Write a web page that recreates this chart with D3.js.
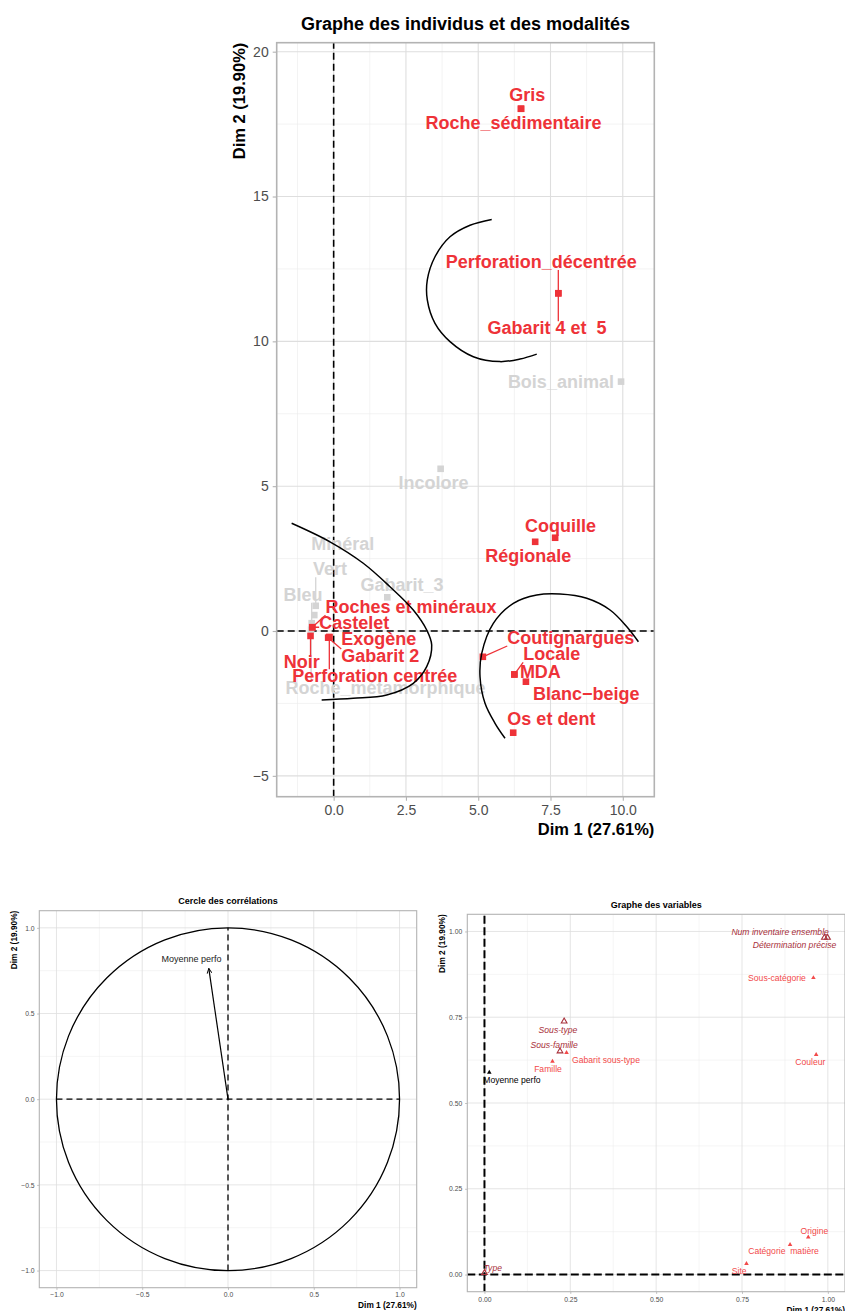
<!DOCTYPE html>
<html><head><meta charset="utf-8">
<script src="https://cdn.jsdelivr.net/npm/d3@7"></script>
<style>
body{margin:0;background:#fff}
svg{display:block;font-family:"Liberation Sans",Arial,sans-serif}
text{white-space:pre}
</style>
</head><body>
<svg id="c" width="845" height="1311"></svg>
<script>
// ================= DATA =================
// Main plot: modalities (coordinates on Dim 1 / Dim 2)
const modNames = ["Gris","Roche_sédimentaire","Perforation_décentrée","Gabarit 4 et  5","Bois_animal","Incolore",
  "Coquille","Régionale","Minéral","Vert","Gabarit_3","Bleu","Roches et minéraux","Castelet","Exogène",
  "Gabarit 2","Noir","Perforation centrée","Roche_métamorphique","Coutignargues","Locale","MDA","Blanc−beige","Os et dent"];
const modDim1 = [6.48,6.48,7.77,7.77,9.94,3.70, 7.66,6.97,-0.67,-0.62,1.855,-0.76,-0.74,-0.74,-0.15,
  -0.19,-0.80,-0.15,-0.78,5.16,6.25,6.25,6.65,6.21];
const modDim2 = [18.03,18.03,11.66,11.66,8.61,5.60, 3.22,3.08,0.55,0.87,1.163,0.27,0.13,0.13,-0.21,
  -0.23,-0.17,-0.21,0.05,-0.89,-1.50,-1.50,-1.75,-3.51];
const modHighlighted = [true,true,true,true,false,false, true,true,false,false,false,false,true,true,true,
  true,true,true,false,true,true,true,true,true];
// repelled label positions (data units)
const modLabelDim1 = [6.70,6.22,7.18,7.38,7.86,3.45, 7.85,6.73,0.315,-0.128,2.363,-1.062,2.675,0.709,1.56,
  1.613,-1.107,1.419,1.792,8.20,7.54,7.15,8.74,7.53];
const modLabelDim2 = [18.53,17.55,12.76,10.47,8.61,5.12, 3.65,2.60,3.02,2.15,1.605,1.27,0.839,0.276,-0.259,
  -0.846,-1.053,-1.547,-1.961,-0.224,-0.788,-1.404,-2.168,-3.03];
const modSegment = [false,false,true,true,false,false, false,false,false,true,false,true,true,true,false,
  true,true,true,true,true,true,false,false,false];

// annotation arcs (traced, data units)
const arcTopDim1 = [5.467,4.716,4.024,3.505,3.239,3.239,3.505,4.024,4.83,5.754,6.446,7.024];
const arcTopDim2 = [14.21,14.01,13.61,12.92,12.12,11.43,10.62,9.99,9.47,9.30,9.39,9.56];
const arcLeftDim1 = [-1.453,-0.128,1.024,1.948,2.754,3.218,3.391,3.218,2.754,1.834,0.678,-0.415];
const arcLeftDim2 = [3.72,3.08,2.34,1.53,0.725,0.035,-0.483,-1.232,-1.805,-2.209,-2.323,-2.382];
const arcRightDim1 = [10.54,10.14,9.56,8.754,7.83,7.024,6.215,5.522,5.121,5.062,5.235,5.581,5.927];
const arcRightDim2 = [-0.369,0.148,0.725,1.129,1.277,1.243,0.956,0.266,-0.770,-1.577,-2.496,-3.186,-3.704];

const mainXTicks = [0,2.5,5,7.5,10];
const mainXTickLabels = ["0.0","2.5","5.0","7.5","10.0"];
const mainXMinor = [-1.25,1.25,3.75,6.25,8.75];
const mainYTicks = [-5,0,5,10,15,20];
const mainYTickLabels = ["−5","0","5","10","15","20"];
const mainYMinor = [-2.5,2.5,7.5,12.5,17.5];

// Correlation circle
const corNames = ["Moyenne perfo"];
const corDim1 = [-0.112];
const corDim2 = [0.763];
const corLabelDim1 = [-0.213];
const corLabelDim2 = [0.817];
const corTicks = [-1,-0.5,0,0.5,1];
const corTickLabels = ["−1.0","−0.5","0.0","0.5","1.0"];
const corMinor = [-0.75,-0.25,0.25,0.75];

// Graph of variables
const varNames = ["Num inventaire ensemble","Détermination précise","Sous-catégorie","Couleur","Sous-type",
  "Sous-famille","Gabarit sous-type","Famille","Moyenne perfo","Type","Site","Catégorie  matière","Origine"];
const varDim1 = [0.990,0.999,0.958,0.966,0.232,0.220,0.239,0.198,0.014,0.000,0.763,0.890,0.943];
const varDim2 = [0.982,0.982,0.865,0.641,0.738,0.651,0.647,0.621,0.589,0.005,0.032,0.087,0.109];
const varRole = ["sup","sup","act","act","sup","sup","act","act","quanti","sup","act","act","act"];
const varLabelDim1 = [0.861,0.903,0.852,0.949,0.214,0.203,0.354,0.185,0.080,0.024,0.742,0.871,0.961];
const varLabelDim2 = [0.998,0.960,0.865,0.619,0.714,0.669,0.627,0.598,0.566,0.020,0.010,0.068,0.126];
const varTicks = [0,0.25,0.5,0.75,1];
const varTickLabels = ["0.00","0.25","0.50","0.75","1.00"];
const varMinor = [0.125,0.375,0.625,0.875];

// ================= STYLE =================
const RED = "#EE3238", GREY = "#D4D4D4";
const DARKRED = "#A8303A", LIGHTRED = "#F24A4A";
const FONT = "'Liberation Sans', Arial, sans-serif";
const svg = d3.select("#c");

function drawPanel(o){
  const g = svg.append("g");
  const x = d3.scaleLinear().domain(o.xDomain).range([o.left,o.right]);
  const y = d3.scaleLinear().domain(o.yDomain).range([o.bottom,o.top]);
  g.append("rect").attr("x",o.left).attr("y",o.top).attr("width",o.right-o.left).attr("height",o.bottom-o.top).attr("fill","#fff");
  const grid = g.append("g");
  grid.selectAll(".mx").data(o.xMinor).join("line").attr("x1",d=>x(d)).attr("x2",d=>x(d)).attr("y1",o.top).attr("y2",o.bottom)
    .attr("stroke","#EBEBEB").attr("stroke-width",o.minorW);
  grid.selectAll(".my").data(o.yMinor).join("line").attr("y1",d=>y(d)).attr("y2",d=>y(d)).attr("x1",o.left).attr("x2",o.right)
    .attr("stroke","#EBEBEB").attr("stroke-width",o.minorW);
  grid.selectAll(".Mx").data(o.xTicks).join("line").attr("x1",d=>x(d)).attr("x2",d=>x(d)).attr("y1",o.top).attr("y2",o.bottom)
    .attr("stroke","#DEDEDE").attr("stroke-width",o.majorW);
  grid.selectAll(".My").data(o.yTicks).join("line").attr("y1",d=>y(d)).attr("y2",d=>y(d)).attr("x1",o.left).attr("x2",o.right)
    .attr("stroke","#DEDEDE").attr("stroke-width",o.majorW);
  const xa = g.append("g").attr("transform",`translate(0,${o.bottom})`)
    .call(d3.axisBottom(x).tickValues(o.xTicks).tickFormat((d,i)=>o.xLabels[i]).tickSize(o.tick).tickPadding(o.pad));
  const ya = g.append("g").attr("transform",`translate(${o.left},0)`)
    .call(d3.axisLeft(y).tickValues(o.yTicks).tickFormat((d,i)=>o.yLabels[i]).tickSize(o.tick).tickPadding(o.pad));
  [xa,ya].forEach(a=>{
    a.select(".domain").remove();
    a.attr("font-family",FONT).attr("font-size",o.tickFs);
    a.selectAll("line").attr("stroke","#B3B3B3").attr("stroke-width",o.majorW);
    a.selectAll("text").attr("fill","#4D4D4D");
  });
  // titles
  svg.append("text").attr("x",(o.left+o.right)/2).attr("y",o.titleY).attr("text-anchor","middle")
    .attr("font-weight","bold").attr("font-size",o.titleFs).attr("fill","#000").text(o.title);
  svg.append("text").attr("x",o.right).attr("y",o.xTitleY).attr("text-anchor","end")
    .attr("font-weight","bold").attr("font-size",o.axisFs).attr("fill","#000").text("Dim 1 (27.61%)");
  svg.append("text").attr("transform",`translate(${o.yTitleX},${o.top}) rotate(-90)`).attr("text-anchor","end")
    .attr("font-weight","bold").attr("font-size",o.axisFs).attr("fill","#000").text("Dim 2 (19.90%)");
  const clipId = "clip"+Math.round(o.left)+"_"+Math.round(o.top);
  svg.append("clipPath").attr("id",clipId).append("rect").attr("x",o.left).attr("y",o.top).attr("width",o.right-o.left).attr("height",o.bottom-o.top);
  const plot = g.append("g").attr("clip-path",`url(#${clipId})`);
  const border = ()=> g.append("rect").attr("x",o.left).attr("y",o.top).attr("width",o.right-o.left).attr("height",o.bottom-o.top)
    .attr("fill","none").attr("stroke","#B3B3B3").attr("stroke-width",o.borderW);
  return {g,plot,x,y,border};
}

// ================= MAIN PANEL =================
const M = drawPanel({left:276.7,right:654.3,top:42.7,bottom:796.7,xDomain:[-1.97,11.09],yDomain:[-5.72,20.31],
  xTicks:mainXTicks,xLabels:mainXTickLabels,xMinor:mainXMinor,yTicks:mainYTicks,yLabels:mainYTickLabels,yMinor:mainYMinor,
  tick:4,pad:4,tickFs:14,minorW:0.6,majorW:1.1,borderW:1.6,title:"Graphe des individus et des modalités",titleFs:18,titleY:30,
  axisFs:16.5,xTitleY:835,yTitleX:245});
{
  const {plot,x,y} = M;
  plot.append("line").attr("x1",x(0)).attr("x2",x(0)).attr("y1",y.range()[0]).attr("y2",y.range()[1])
    .attr("stroke","#000").attr("stroke-width",1.6).attr("stroke-dasharray","7,4");
  plot.append("line").attr("y1",y(0)).attr("y2",y(0)).attr("x1",x.range()[0]).attr("x2",x.range()[1])
    .attr("stroke","#000").attr("stroke-width",1.6).attr("stroke-dasharray","7,4");
  const mods = modNames.map((n,i)=>({n,x:modDim1[i],y:modDim2[i],hi:modHighlighted[i],lx:modLabelDim1[i],ly:modLabelDim2[i],seg:modSegment[i]}));
  const order = mods.filter(d=>!d.hi).concat(mods.filter(d=>d.hi));
  const segG = plot.append("g");
  const ptG = plot.append("g");
  const lbG = plot.append("g");
  ptG.selectAll("rect").data(order).join("rect")
    .attr("x",d=>x(d.x)-3.3).attr("y",d=>y(d.y)-3.3).attr("width",6.6).attr("height",6.6)
    .attr("fill",d=>d.hi?RED:GREY);
  const lbs = lbG.selectAll("text").data(order).join("text")
    .attr("x",d=>x(d.lx)).attr("y",d=>y(d.ly)).attr("dy","0.36em").attr("text-anchor","middle")
    .attr("font-weight","bold").attr("font-size",18).attr("fill",d=>d.hi?RED:GREY).text(d=>d.n);
  lbs.each(function(d){
    if(!d.seg) return;
    const b = this.getBBox();
    const top = b.y+3, bot = b.y+b.height-2;
    const px = x(d.x), py = y(d.y);
    const cx = Math.max(b.x, Math.min(b.x+b.width, px));
    const cy = Math.max(top, Math.min(bot, py));
    segG.append("line").attr("x1",px).attr("y1",py).attr("x2",cx).attr("y2",cy)
      .attr("stroke",d.hi?RED:GREY).attr("stroke-width",1.3);
  });
  const line = d3.line().x(d=>x(d[0])).y(d=>y(d[1])).curve(d3.curveCatmullRom);
  [[arcTopDim1,arcTopDim2],[arcLeftDim1,arcLeftDim2],[arcRightDim1,arcRightDim2]].forEach(([a,b])=>{
    plot.append("path").attr("d",line(a.map((v,i)=>[v,b[i]]))).attr("fill","none").attr("stroke","#000").attr("stroke-width",1.5);
  });
  M.border();
}

// ================= CORRELATION CIRCLE =================
const C = drawPanel({left:39.3,right:416.7,top:910.7,bottom:1287.7,xDomain:[-1.1,1.1],yDomain:[-1.1,1.1],
  xTicks:corTicks,xLabels:corTickLabels,xMinor:corMinor,yTicks:corTicks,yLabels:corTickLabels,yMinor:corMinor,
  tick:2.2,pad:2.5,tickFs:6.8,minorW:0.5,majorW:0.8,borderW:1.1,title:"Cercle des corrélations",titleFs:9,titleY:903.5,
  axisFs:8.3,xTitleY:1307.5,yTitleX:16.5});
{
  const {plot,x,y} = C;
  plot.append("ellipse").attr("cx",x(0)).attr("cy",y(0)).attr("rx",x(1)-x(0)).attr("ry",y(0)-y(1))
    .attr("fill","none").attr("stroke","#000").attr("stroke-width",1.3);
  plot.append("line").attr("x1",x(-1)).attr("x2",x(1)).attr("y1",y(0)).attr("y2",y(0))
    .attr("stroke","#000").attr("stroke-width",1.3).attr("stroke-dasharray","6,4");
  plot.append("line").attr("y1",y(-1)).attr("y2",y(1)).attr("x1",x(0)).attr("x2",x(0))
    .attr("stroke","#000").attr("stroke-width",1.3).attr("stroke-dasharray","6,4");
  svg.append("defs").append("marker").attr("id","ah").attr("viewBox","0 0 10 10").attr("refX",9).attr("refY",5)
    .attr("markerWidth",6).attr("markerHeight",6).attr("markerUnits","userSpaceOnUse").attr("orient","auto")
    .append("path").attr("d","M1,1 L9,5 L1,9").attr("fill","none").attr("stroke","#000").attr("stroke-width",1.6);
  corNames.forEach((n,i)=>{
    plot.append("line").attr("x1",x(0)).attr("y1",y(0)).attr("x2",x(corDim1[i])).attr("y2",y(corDim2[i]))
      .attr("stroke","#000").attr("stroke-width",1.2).attr("marker-end","url(#ah)");
    plot.append("text").attr("x",x(corLabelDim1[i])).attr("y",y(corLabelDim2[i])).attr("dy","0.36em")
      .attr("text-anchor","middle").attr("font-size",9).attr("fill","#222").text(n);
  });
  C.border();
}

// ================= GRAPH OF VARIABLES =================
const V = drawPanel({left:467.3,right:845,top:914.3,bottom:1291.7,xDomain:[-0.05,1.05],yDomain:[-0.05,1.05],
  xTicks:varTicks,xLabels:varTickLabels,xMinor:varMinor,yTicks:varTicks,yLabels:varTickLabels,yMinor:varMinor,
  tick:2.2,pad:2.8,tickFs:6.8,minorW:0.5,majorW:0.8,borderW:1.1,title:"Graphe des variables",titleFs:9,titleY:907.5,
  axisFs:8.3,xTitleY:1313,yTitleX:445});
{
  const {plot,x,y} = V;
  plot.append("line").attr("x1",x(0)).attr("x2",x(0)).attr("y1",y.range()[0]).attr("y2",y.range()[1])
    .attr("stroke","#000").attr("stroke-width",2).attr("stroke-dasharray","8,3.5");
  plot.append("line").attr("y1",y(0)).attr("y2",y(0)).attr("x1",x.range()[0]).attr("x2",x.range()[1])
    .attr("stroke","#000").attr("stroke-width",2).attr("stroke-dasharray","8,3.5");
  const vars = varNames.map((n,i)=>({n,x:varDim1[i],y:varDim2[i],r:varRole[i],lx:varLabelDim1[i],ly:varLabelDim2[i]}));
  const col = r => r==="sup"?DARKRED:(r==="act"?LIGHTRED:"#000");
  const tri = d3.symbol().type(d3.symbolTriangle);
  plot.selectAll("path.pt").data(vars).join("path").attr("class","pt")
    .attr("transform",d=>`translate(${x(d.x)},${y(d.y)})`)
    .attr("d",d=>tri.size(d.r==="sup"?14:9)())
    .attr("fill",d=>d.r==="sup"?"none":col(d.r))
    .attr("stroke",d=>d.r==="sup"?col(d.r):"none").attr("stroke-width",1.1);
  plot.selectAll("text.lb").data(vars).join("text").attr("class","lb")
    .attr("x",d=>x(d.lx)).attr("y",d=>y(d.ly)).attr("dy","0.36em").attr("text-anchor","middle")
    .attr("font-size",8.6).attr("font-style",d=>d.r==="sup"?"italic":"normal").attr("fill",d=>col(d.r)).text(d=>d.n);
  V.border();
}
</script>
</body></html>
